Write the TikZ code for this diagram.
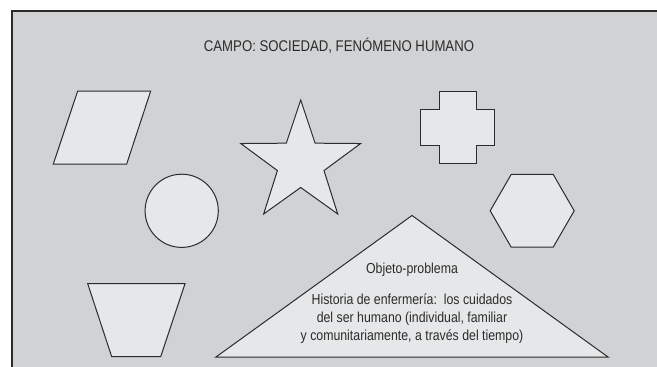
\documentclass[tikz,border=0pt]{standalone}
\usepackage{fontspec}
\newfontfamily\narrowfont[FakeStretch=0.85]{Liberation Sans}
\usetikzlibrary{calc}
\definecolor{fondo}{HTML}{D1D2D4}
\definecolor{claro}{HTML}{E6E7E8}
\definecolor{trazo}{HTML}{2B2B2B}
\tikzset{figura/.style={draw=trazo,line width=1pt,fill=claro,line join=miter},
  texto/.style={font=\narrowfont\fontsize{14.5}{18}\selectfont,text=trazo,align=center,inner sep=0pt}}

\begin{document}
\begin{tikzpicture}[x=1pt,y=-1pt]
\useasboundingbox (0,0) rectangle (657,367);
\draw[draw=trazo,line width=2pt,fill=fondo] (12,11) rectangle (700,400);
\node[texto,font=\narrowfont\fontsize{15.5}{18}\selectfont] (campo) at (339,46) {CAMPO: SOCIEDAD, FENÓMENO HUMANO};
% paralelogramo
\draw[figura] (77.7,91) -- (150.7,91) -- (126.7,164) -- (53.3,164) -- cycle;
% estrella
\coordinate (E) at (300.7,163);
\draw[figura] ($(E)+(-90:63)$) \foreach \i [evaluate=\i as \r using {mod(\i,2)==0 ? 63 : 24.5}] in {1,...,9} { -- ($(E)+(-90+36*\i:\r)$)} -- cycle;
% cruz
\draw[figura] (439,91) -- (476,91) -- (476,109.3) -- (494,109.3) -- (494,145.7) -- (476,145.7)
  -- (476,163.3) -- (439,163.3) -- (439,145.7) -- (420.7,145.7) -- (420.7,109.3) -- (439,109.3) -- cycle;
% circulo
\draw[figura] (181.7,210.8) circle[radius=36.6];
% hexagono
\coordinate (H) at (532.2,210.8);
\draw[figura] ($(H)+(0:42)$) \foreach \a in {60,120,...,300} { -- ($(H)+(\a:42)$)} -- cycle;
% trapecio
\draw[figura] (87.7,283.7) -- (185,283.7) -- (160.7,356.7) -- (111.7,356.7) -- cycle;
% triangulo
\coordinate (T1) at (216,357);
\coordinate (T2) at (608,357);
\coordinate (T3) at (412,215.5);
\draw[figura] (T1) -- (T2) -- (T3) -- cycle;
\node[texto] (objeto) at (412,270) {Objeto-problema};
\node[texto] (historia) at (412,319) {Historia de enfermería:\ \ los cuidados\\del ser humano (individual, familiar\\y comunitariamente, a través del tiempo)};
\end{tikzpicture}
\end{document}
